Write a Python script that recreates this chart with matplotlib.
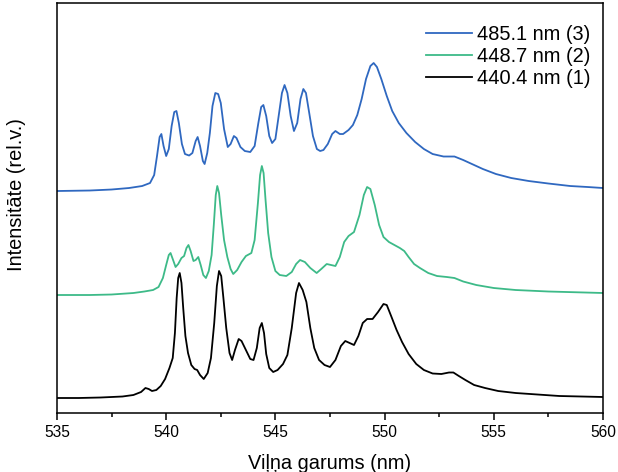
import matplotlib
matplotlib.use("Agg")
import matplotlib.pyplot as plt
from matplotlib.ticker import MultipleLocator, NullLocator

plt.rcParams['font.family'] = ['Liberation Sans', 'DejaVu Sans']

# spectra (wavelength nm, relative intensity)
wl_1 = [535.00, 536.00, 537.00, 538.00, 538.50, 538.85, 539.05, 539.20, 539.35, 539.55,
        539.75, 539.95, 540.15, 540.30, 540.40, 540.48, 540.55, 540.62, 540.70, 540.78,
        540.88, 541.00, 541.15, 541.30, 541.42, 541.55, 541.72, 541.90, 542.05, 542.20,
        542.32, 542.42, 542.52, 542.62, 542.75, 542.90, 543.02, 543.15, 543.32, 543.45,
        543.65, 543.85, 544.00, 544.15, 544.28, 544.38, 544.48, 544.58, 544.72, 544.90,
        545.10, 545.35, 545.55, 545.75, 545.95, 546.08, 546.25, 546.42, 546.60, 546.78,
        547.00, 547.25, 547.50, 547.75, 548.00, 548.20, 548.40, 548.60, 548.80, 549.00,
        549.20, 549.45, 549.70, 549.95, 550.10, 550.30, 550.55, 550.80, 551.10, 551.45,
        551.80, 552.20, 552.60, 552.95, 553.15, 553.40, 553.70, 554.10, 554.60, 555.20,
        556.00, 557.00, 558.00, 559.00, 560.00]
int_1 = [0.00, 0.00, 0.005, 0.015, 0.03, 0.06, 0.10, 0.09, 0.07, 0.08,
         0.12, 0.19, 0.30, 0.40, 0.65, 1.00, 1.20, 1.25, 1.15, 0.90,
         0.62, 0.45, 0.33, 0.29, 0.28, 0.23, 0.19, 0.25, 0.40, 0.75,
         1.12, 1.27, 1.22, 1.00, 0.70, 0.45, 0.38, 0.48, 0.59, 0.57,
         0.48, 0.39, 0.38, 0.50, 0.70, 0.75, 0.65, 0.44, 0.30, 0.26,
         0.28, 0.34, 0.43, 0.70, 1.05, 1.15, 1.08, 0.96, 0.70, 0.50,
         0.38, 0.33, 0.31, 0.38, 0.52, 0.57, 0.55, 0.53, 0.62, 0.75,
         0.79, 0.79, 0.86, 0.94, 0.93, 0.82, 0.68, 0.56, 0.44, 0.34,
         0.28, 0.245, 0.24, 0.255, 0.255, 0.22, 0.18, 0.13, 0.10, 0.07,
         0.05, 0.035, 0.02, 0.015, 0.01]

wl_2 = [535.00, 536.50, 537.50, 538.50, 539.00, 539.40, 539.65, 539.85, 540.00, 540.12,
        540.20, 540.30, 540.43, 540.55, 540.70, 540.82, 540.93, 541.02, 541.12, 541.25,
        541.35, 541.47, 541.58, 541.70, 541.82, 541.95, 542.08, 542.18, 542.27, 542.34,
        542.42, 542.52, 542.65, 542.80, 542.95, 543.07, 543.25, 543.45, 543.65, 543.90,
        544.05, 544.20, 544.30, 544.38, 544.46, 544.55, 544.67, 544.82, 545.00, 545.20,
        545.50, 545.75, 545.95, 546.13, 546.35, 546.60, 546.89, 547.10, 547.35, 547.55,
        547.75, 547.95, 548.15, 548.35, 548.60, 548.85, 549.05, 549.20, 549.35, 549.55,
        549.75, 549.95, 550.20, 550.45, 550.70, 550.90, 551.10, 551.35, 551.62, 552.00,
        552.40, 552.85, 553.20, 553.60, 554.20, 555.00, 556.00, 557.50, 560.00]
int_2 = [0.00, 0.00, 0.005, 0.02, 0.035, 0.05, 0.08, 0.17, 0.30, 0.40,
         0.42, 0.36, 0.28, 0.31, 0.37, 0.39, 0.47, 0.50, 0.44, 0.34,
         0.35, 0.38, 0.30, 0.20, 0.17, 0.24, 0.40, 0.70, 1.00, 1.09,
         1.02, 0.80, 0.55, 0.38, 0.26, 0.21, 0.25, 0.33, 0.39, 0.42,
         0.55, 0.92, 1.20, 1.29, 1.22, 0.95, 0.62, 0.38, 0.24, 0.20,
         0.19, 0.23, 0.31, 0.35, 0.33, 0.27, 0.22, 0.26, 0.31, 0.30,
         0.29, 0.38, 0.53, 0.59, 0.63, 0.80, 1.00, 1.08, 1.06, 0.90,
         0.70, 0.58, 0.53, 0.50, 0.47, 0.44, 0.38, 0.31, 0.27, 0.22,
         0.19, 0.18, 0.17, 0.135, 0.10, 0.07, 0.05, 0.035, 0.02]

wl_3 = [535.00, 536.50, 537.50, 538.30, 538.90, 539.26, 539.45, 539.58, 539.70, 539.78,
        539.88, 540.00, 540.12, 540.25, 540.37, 540.47, 540.58, 540.72, 540.86, 541.05,
        541.20, 541.35, 541.44, 541.55, 541.68, 541.76, 541.88, 542.00, 542.12, 542.25,
        542.38, 542.50, 542.65, 542.82, 542.95, 543.10, 543.22, 543.40, 543.60, 543.85,
        544.05, 544.22, 544.35, 544.45, 544.58, 544.72, 544.85, 545.00, 545.15, 545.30,
        545.42, 545.55, 545.70, 545.85, 546.00, 546.15, 546.28, 546.40, 546.55, 546.72,
        546.90, 547.05, 547.20, 547.40, 547.60, 547.75, 547.95, 548.10, 548.35, 548.55,
        548.75, 548.95, 549.15, 549.35, 549.50, 549.65, 549.85, 550.10, 550.35, 550.65,
        551.00, 551.40, 551.80, 552.20, 552.70, 553.20, 553.60, 554.00, 554.50, 555.10,
        555.80, 556.60, 557.50, 558.50, 559.30, 560.00]
int_3 = [0.00, 0.005, 0.015, 0.03, 0.05, 0.08, 0.16, 0.35, 0.54, 0.57,
         0.45, 0.35, 0.42, 0.65, 0.79, 0.80, 0.68, 0.47, 0.37, 0.355,
         0.38, 0.50, 0.54, 0.45, 0.30, 0.27, 0.38, 0.58, 0.85, 0.98,
         0.97, 0.88, 0.62, 0.44, 0.47, 0.55, 0.53, 0.44, 0.40, 0.39,
         0.45, 0.68, 0.84, 0.86, 0.75, 0.55, 0.48, 0.52, 0.75, 0.98,
         1.06, 0.98, 0.75, 0.60, 0.68, 0.92, 1.02, 0.98, 0.78, 0.55,
         0.42, 0.40, 0.41, 0.47, 0.57, 0.60, 0.57, 0.57, 0.61, 0.66,
         0.76, 0.92, 1.12, 1.25, 1.28, 1.24, 1.12, 0.95, 0.80, 0.68,
         0.58, 0.49, 0.42, 0.37, 0.345, 0.345, 0.31, 0.27, 0.22, 0.17,
         0.13, 0.10, 0.075, 0.05, 0.04, 0.03]

labels = ['440.4 nm (1)', '448.7 nm (2)', '485.1 nm (3)']
offsets = [0.0, 1.03, 2.07]
colors = ['#000000', '#3dba88', '#2f68c0']

fig = plt.figure(figsize=(6.18, 4.72), dpi=100)
ax = fig.add_axes([0.0922, 0.125, 0.8835, 0.8686])

series = [(wl_1, int_1), (wl_2, int_2), (wl_3, int_3)]
lines = []
for (wl, it), off, c, lab in zip(series, offsets, colors, labels):
    ln, = ax.plot(wl, [v + off for v in it], color=c, lw=1.3, label=lab,
                  solid_joinstyle='round')
    lines.append(ln)

ax.set_xlim(535, 560)
ax.set_ylim(-0.15, 3.95)
ax.xaxis.set_major_locator(MultipleLocator(5))
ax.xaxis.set_minor_locator(MultipleLocator(2.5))
ax.yaxis.set_major_locator(NullLocator())
ax.tick_params(axis='x', which='major', direction='out', length=5, width=1.1, labelsize=11.2)
ax.tick_params(axis='x', which='minor', direction='out', length=3, width=1.1)
for s in ax.spines.values():
    s.set_linewidth(1.1)

ax.set_xlabel('Viļņa garums (nm)', fontsize=14.4)
ax.set_ylabel('Intensitāte (rel.v.)', fontsize=14.4)
ax.xaxis.set_label_coords(0.5, -0.1)
ax.yaxis.set_label_coords(-0.057, 0.532)

ax.legend(lines[::-1], labels[::-1], loc='upper right', frameon=False, fontsize=14.4,
          handlelength=2.3, labelspacing=0.15, handletextpad=0.25,
          bbox_to_anchor=(1.01, 0.99))

fig.savefig('out.png', dpi=100)
